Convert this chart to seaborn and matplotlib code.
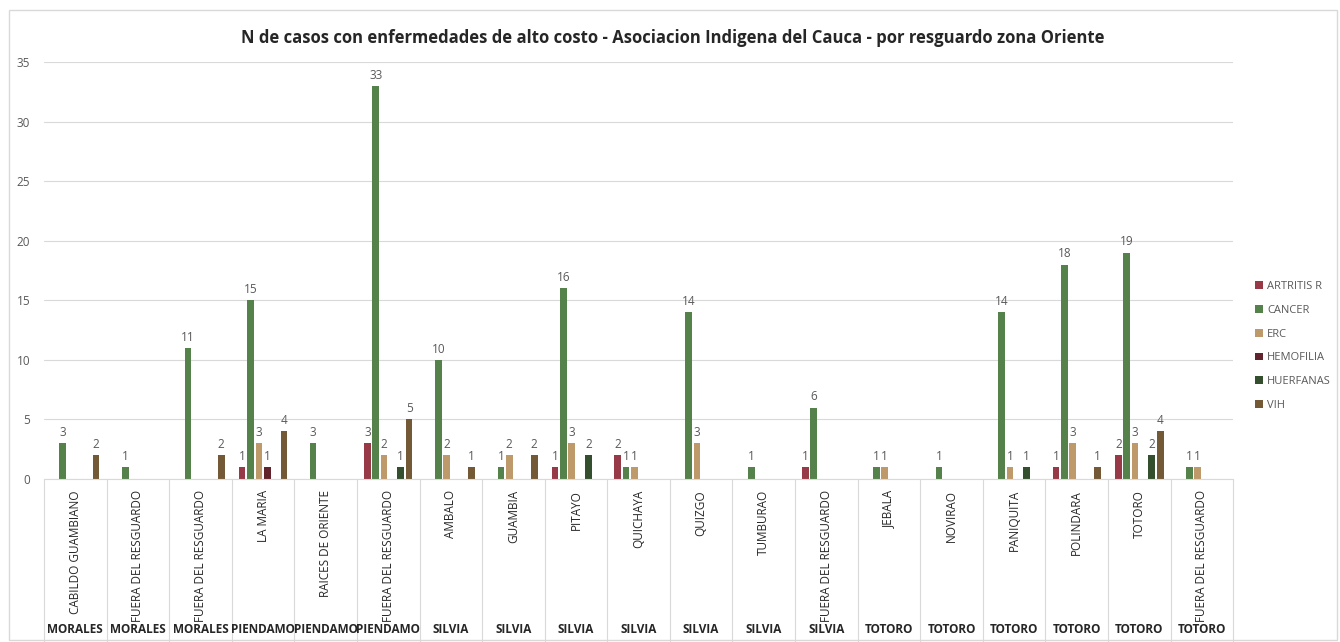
import numpy as np
import pandas as pd
import seaborn as sns
import matplotlib.pyplot as plt
from matplotlib.patches import Rectangle

resguardos = ["CABILDO GUAMBIANO", "FUERA DEL RESGUARDO", "FUERA DEL RESGUARDO", "LA MARIA",
              "RAICES DE ORIENTE", "FUERA DEL RESGUARDO", "AMBALO", "GUAMBIA", "PITAYO",
              "QUICHAYA", "QUIZGO", "TUMBURAO", "FUERA DEL RESGUARDO", "JEBALA", "NOVIRAO",
              "PANIQUITA", "POLINDARA", "TOTORO", "FUERA DEL RESGUARDO"]
municipios = ["MORALES", "MORALES", "MORALES", "PIENDAMO", "PIENDAMO", "PIENDAMO",
              "SILVIA", "SILVIA", "SILVIA", "SILVIA", "SILVIA", "SILVIA", "SILVIA",
              "TOTORO", "TOTORO", "TOTORO", "TOTORO", "TOTORO", "TOTORO"]

enfermedades = ["ARTRITIS R", "CANCER", "ERC", "HEMOFILIA", "HUERFANAS", "VIH"]
artritis = [0, 0, 0, 1, 0, 3, 0, 0, 1, 2, 0, 0, 1, 0, 0, 0, 1, 2, 0]
cancer = [3, 1, 11, 15, 3, 33, 10, 1, 16, 1, 14, 1, 6, 1, 1, 14, 18, 19, 1]
erc = [0, 0, 0, 3, 0, 2, 2, 2, 3, 1, 3, 0, 0, 1, 0, 1, 3, 3, 1]
hemofilia = [0, 0, 0, 1, 0, 0, 0, 0, 0, 0, 0, 0, 0, 0, 0, 0, 0, 0, 0]
huerfanas = [0, 0, 0, 0, 0, 1, 0, 0, 2, 0, 0, 0, 0, 0, 0, 1, 0, 2, 0]
vih = [2, 0, 2, 4, 0, 5, 1, 2, 0, 0, 0, 0, 0, 0, 0, 0, 1, 4, 0]

colores = ["#A62A3B", "#4F8A41", "#CC9B5B", "#6B1A24", "#2F5428", "#7D5A2B"]

series = [artritis, cancer, erc, hemofilia, huerfanas, vih]
rows = []
for enf, vals in zip(enfermedades, series):
    for i, v in enumerate(vals):
        rows.append({"grupo": i, "enfermedad": enf, "casos": v})
df = pd.DataFrame(rows)

sns.set_style("white")
plt.rcParams['font.family'] = ['Open Sans', 'DejaVu Sans']

fig = plt.figure(figsize=(13.4, 6.42), dpi=100)
ax = fig.add_axes([0.0328, 0.2539, 0.8875, 0.6495])

sns.barplot(data=df, x="grupo", y="casos", hue="enfermedad", hue_order=enfermedades,
            palette=colores, errorbar=None, width=0.8, gap=0.2, linewidth=0, ax=ax)

for cont in ax.containers:
    labels = [f"{int(b.get_height())}" if b.get_height() > 0 else "" for b in cont]
    ax.bar_label(cont, labels=labels, padding=3, fontsize=8.5, color="#595959")

ax.set_ylim(0, 35)
ax.set_xlim(-0.5, len(resguardos) - 0.5)
ax.set_yticks(range(0, 36, 5))
ax.tick_params(axis="y", labelsize=8.5, labelcolor="#595959", length=0, pad=10)
ax.yaxis.grid(True, color="#D9D9D9", linewidth=0.8)
ax.set_axisbelow(True)
for s in ["top", "right", "left"]:
    ax.spines[s].set_visible(False)
ax.spines["bottom"].set_color("#D9D9D9")
ax.set_xlabel("")
ax.set_ylabel("")

ax.set_xticks(range(len(resguardos)))
ax.set_xticklabels(resguardos, rotation=90, va="top", ha="center", fontsize=8.5)
ax.tick_params(axis="x", length=0, pad=8)

trans = ax.get_xaxis_transform()
ax.vlines(np.arange(len(resguardos) + 1) - 0.5, -0.39, 0, transform=trans,
          colors="#D9D9D9", linewidth=0.8, clip_on=False)
for i, m in enumerate(municipios):
    ax.text(i, -0.36, m, transform=trans, ha="center", va="center",
            fontsize=8.5, fontweight="bold")

ax.legend(loc="center left", bbox_to_anchor=(0.929, 0.461), bbox_transform=fig.transFigure,
          frameon=False, fontsize=8, handlelength=0.7, handleheight=0.7,
          labelspacing=1.15, handletextpad=0.4, labelcolor="#595959")

fig.text(0.502, 0.941, "N de casos con enfermedades de alto costo - Asociacion Indigena del Cauca - por resguardo zona Oriente",
         ha="center", va="center", fontsize=12, fontweight="bold")

fig.patches.append(Rectangle((0.007, 0.003), 0.991, 0.982, transform=fig.transFigure,
                             fill=False, edgecolor="#D9D9D9", linewidth=1))

fig.savefig("out.png", dpi=100)
